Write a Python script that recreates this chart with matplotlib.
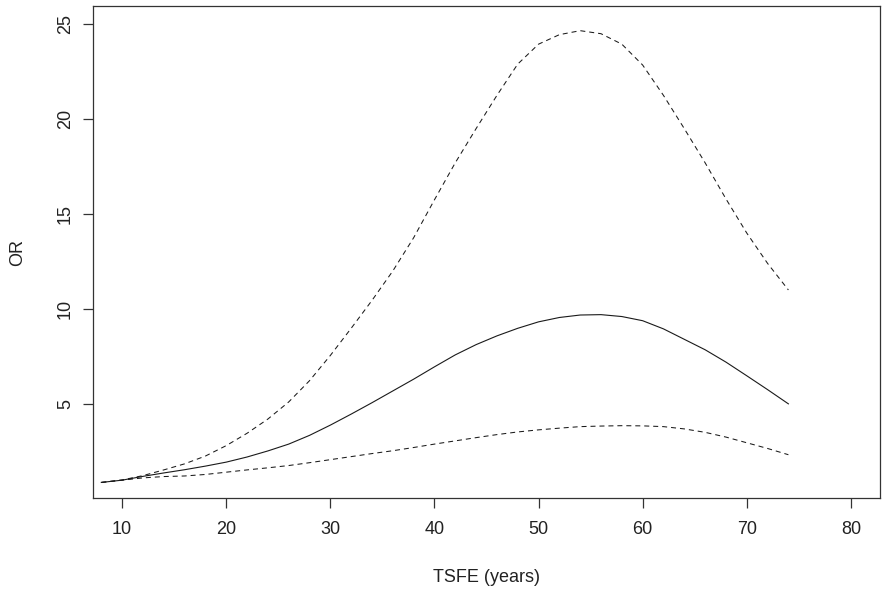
import numpy as np
import matplotlib
matplotlib.use("Agg")
import matplotlib.pyplot as plt

plt.rcParams['font.family'] = ['Liberation Sans', 'DejaVu Sans']

# TSFE grid (years) and values
tsfe = [8, 10, 12, 14, 16, 18, 20, 22, 24, 26, 28, 30, 32, 34, 36, 38, 40,
        42, 44, 46, 48, 50, 52, 54, 56, 58, 60, 62, 64, 66, 68, 70, 72, 74]

or_est = [0.86, 0.98, 1.18, 1.36, 1.53, 1.72, 1.93, 2.20, 2.52, 2.88, 3.34,
          3.88, 4.46, 5.06, 5.68, 6.30, 6.95, 7.58, 8.12, 8.58, 8.98, 9.32,
          9.55, 9.68, 9.70, 9.60, 9.38, 8.95, 8.40, 7.85, 7.20, 6.48, 5.75,
          5.00]

or_upper = [0.86, 0.99, 1.22, 1.52, 1.84, 2.25, 2.80, 3.45, 4.20, 5.10, 6.22,
            7.55, 8.98, 10.45, 12.00, 13.75, 15.75, 17.70, 19.50, 21.25,
            22.90, 23.95, 24.45, 24.66, 24.50, 23.95, 22.85, 21.25, 19.50,
            17.70, 15.80, 14.00, 12.40, 11.00]

or_lower = [0.86, 0.98, 1.10, 1.17, 1.20, 1.28, 1.40, 1.52, 1.63, 1.75, 1.90,
            2.06, 2.22, 2.38, 2.53, 2.70, 2.88, 3.05, 3.22, 3.38, 3.52, 3.63,
            3.72, 3.80, 3.83, 3.85, 3.84, 3.80, 3.68, 3.50, 3.25, 2.95, 2.65,
            2.32]

x_ticks = [10, 20, 30, 40, 50, 60, 70, 80]
y_ticks = [5, 10, 15, 20, 25]

W, H = 885, 594
fig = plt.figure(figsize=(W / 100, H / 100), dpi=100)
ax = fig.add_axes([93 / W, 1 - 498 / H, (880 - 93) / W, (498 - 6) / H])

LINE_COL = '#1a1a1a'
dash = (0, (4.8, 3.8))
ax.plot(tsfe, or_est, color=LINE_COL, lw=0.8, solid_joinstyle='round')
ax.plot(tsfe, or_upper, color=LINE_COL, lw=0.75, linestyle=dash)
ax.plot(tsfe, or_lower, color=LINE_COL, lw=0.75, linestyle=dash)

# R-style axis extents (4% padding)
ax.set_xlim(7.2, 82.8)
ax.set_ylim(0.04, 25.96)

ax.set_xticks(x_ticks)
ax.set_yticks(y_ticks)
for s in ax.spines.values():
  s.set_color('#333333')
  s.set_linewidth(0.9)

ax.tick_params(axis='both', direction='out', length=7.2, width=0.9,
               colors='#333333', labelsize=13, labelcolor='#222222')
ax.tick_params(axis='x', pad=9.5)
ax.tick_params(axis='y', pad=6.5)
for lab in ax.get_yticklabels():
  lab.set_rotation(90)
  lab.set_verticalalignment('center')

ax.set_xlabel("TSFE (years)", fontsize=13, color='#222222', va='baseline')
ax.xaxis.set_label_coords(0.5, (498 - 582) / 492)
ax.set_ylabel("OR", fontsize=13, color='#222222', va='center')
ax.yaxis.set_label_coords((18 - 93) / 787, 0.5)

fig.savefig("out.png", dpi=100)
